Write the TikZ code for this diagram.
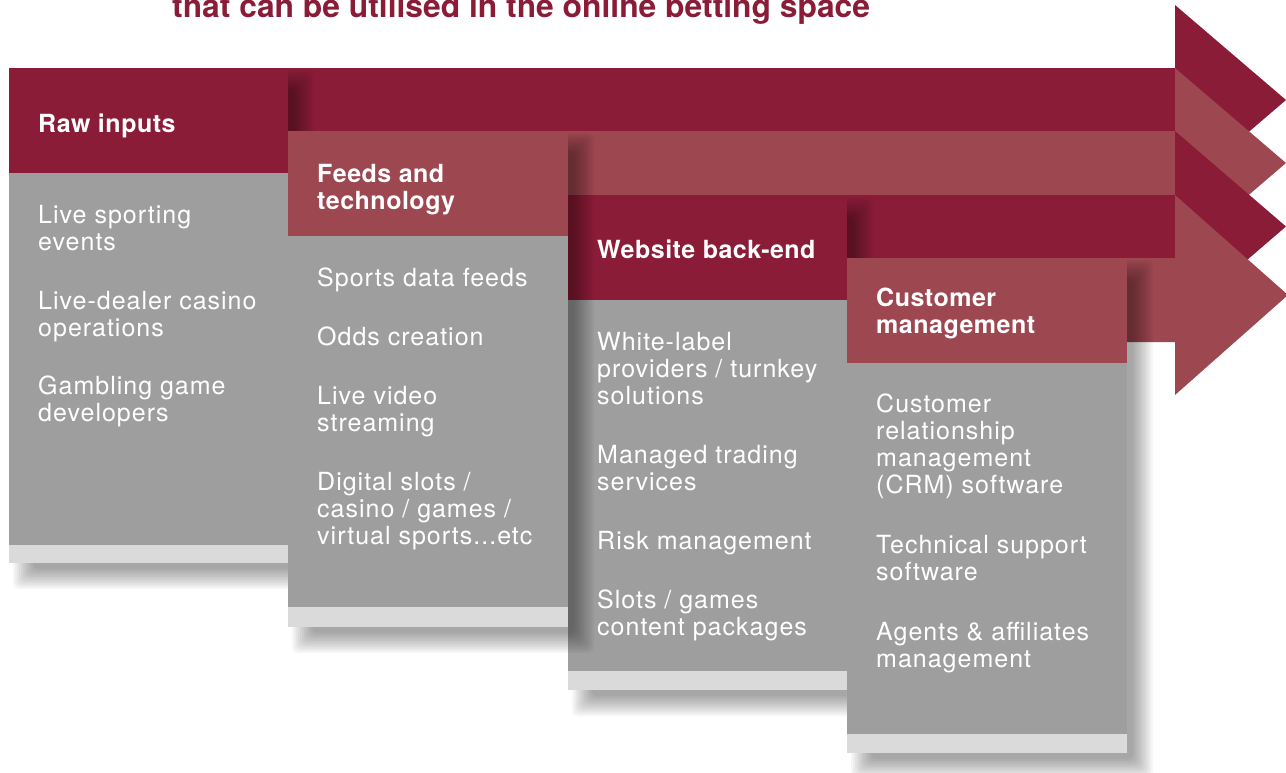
\documentclass[tikz,border=0pt]{standalone}
\usepackage{fontspec}
\setmainfont{TeX Gyre Heros}
\definecolor{darkred}{HTML}{8A1C38}
\definecolor{lightred}{HTML}{9D4750}
\definecolor{bodygray}{HTML}{9D9E9D}
\definecolor{stripgray}{HTML}{DADADA}
\newcommand\mylines[1]{\vtop{\baselineskip=27pt\lineskiplimit=-30pt\halign{##\hfil\cr#1\crcr}}}
% soft drop shadow built from stacked translucent rectangles
\newcommand\colshade[4]{%
  \foreach \r in {12,10,...,-8} {
    \fill[black, fill opacity=0.035, rounded corners=5pt]
      ({#1+16-\r},{#2+14-\r}) rectangle ({#3+14+\r},{#4+14+\r});
  }}
\tikzset{
  bodytext/.style={anchor=base west, inner sep=0pt, text=white,
    font=\fontsize{25}{27}\selectfont\addfontfeatures{LetterSpace=4}},
  headtext/.style={anchor=base west, inner sep=0pt, text=white,
    font=\fontsize{25}{27}\selectfont\bfseries\addfontfeatures{LetterSpace=2}},
}
\begin{document}
\begin{tikzpicture}[x=1pt,y=-1pt]
\useasboundingbox (0,0) rectangle (1286,772);
\clip (0,0) rectangle (1286,772);
\fill[white] (0,0) rectangle (1286,772);
% title
\node (title) [anchor=base west, inner sep=0pt, text=darkred,
  font=\fontsize{31.8}{34}\selectfont\bfseries] at (172,17.5)
  {that can be utilised in the online betting space};
% band 1
\fill[darkred] (9,68) -- (1175,68) -- (1175,5) -- (1286,100) -- (1175,195)
  -- (1175,131) -- (9,131) -- cycle;
% column 1
\colshade{9}{68}{288}{563}
\fill[bodygray] (9,68) rectangle (288,563);
\fill[stripgray] (9,545) rectangle (288,563);
\fill[darkred] (9,68) rectangle (288,173);
% band 2
\fill[lightred] (288,131) -- (1175,131) -- (1175,68) -- (1286,163) -- (1175,258)
  -- (1175,195) -- (288,195) -- cycle;
% band 3
\fill[darkred] (568,195) -- (1175,195) -- (1175,131) -- (1286,226.5) -- (1175,322)
  -- (1175,258) -- (568,258) -- cycle;
% column 3
\colshade{568}{195}{847}{690}
\fill[bodygray] (568,195) rectangle (847,690);
\fill[stripgray] (568,671) rectangle (847,690);
\fill[darkred] (568,195) rectangle (847,300);
% column 2
\colshade{288}{131}{568}{627}
\fill[bodygray] (288,131) rectangle (568,627);
\fill[stripgray] (288,607) rectangle (568,627);
\fill[lightred] (288,131) rectangle (568,236);
% band 4
\fill[lightred] (847,258) -- (1175,258) -- (1175,195) -- (1288,295) -- (1175,395)
  -- (1175,342) -- (847,342) -- cycle;
% column 4
\colshade{847}{258}{1127}{753}
\fill[bodygray] (847,258) rectangle (1127,753);
\fill[stripgray] (847,734) rectangle (1127,753);
\fill[lightred] (847,258) rectangle (1127,363);
% headers
\node (h1) [headtext] at (38,132) {Raw inputs};
\node (h2) [headtext] at (317,182) {\mylines{Feeds and\cr technology}};
\node (h3) [headtext] at (597,258.5) {Website back-end};
\node (h4) [headtext] at (876,306.5) {\mylines{Customer\cr management}};
% column 1 items
\node (a1) [bodytext] at (38,223) {\mylines{Live sporting\cr events}};
\node (a2) [bodytext] at (38,309) {\mylines{Live-dealer casino\cr operations}};
\node (a3) [bodytext] at (38,394.5) {\mylines{Gambling game\cr developers}};
% column 2 items
\node (b1) [bodytext] at (317,286) {Sports data feeds};
\node (b2) [bodytext] at (317,345) {Odds creation};
\node (b3) [bodytext] at (317,404) {\mylines{Live video\cr streaming}};
\node (b4) [bodytext] at (317,490) {\mylines{Digital slots /\cr casino / games /\cr virtual sports...etc}};
% column 3 items
\node (c1) [bodytext] at (597,350) {\mylines{White-label\cr providers / turnkey\cr solutions}};
\node (c2) [bodytext] at (597,463) {\mylines{Managed trading\cr services}};
\node (c3) [bodytext] at (597,549) {Risk management};
\node (c4) [bodytext] at (597,608) {\mylines{Slots / games\cr content packages}};
% column 4 items
\node (d1) [bodytext] at (876,412.5) {\mylines{Customer\cr relationship\cr management\cr (CRM) software}};
\node (d2) [bodytext] at (876,553) {\mylines{Technical support\cr software}};
\node (d3) [bodytext] at (876,640) {\mylines{Agents \& affiliates\cr management}};
\end{tikzpicture}
\end{document}
